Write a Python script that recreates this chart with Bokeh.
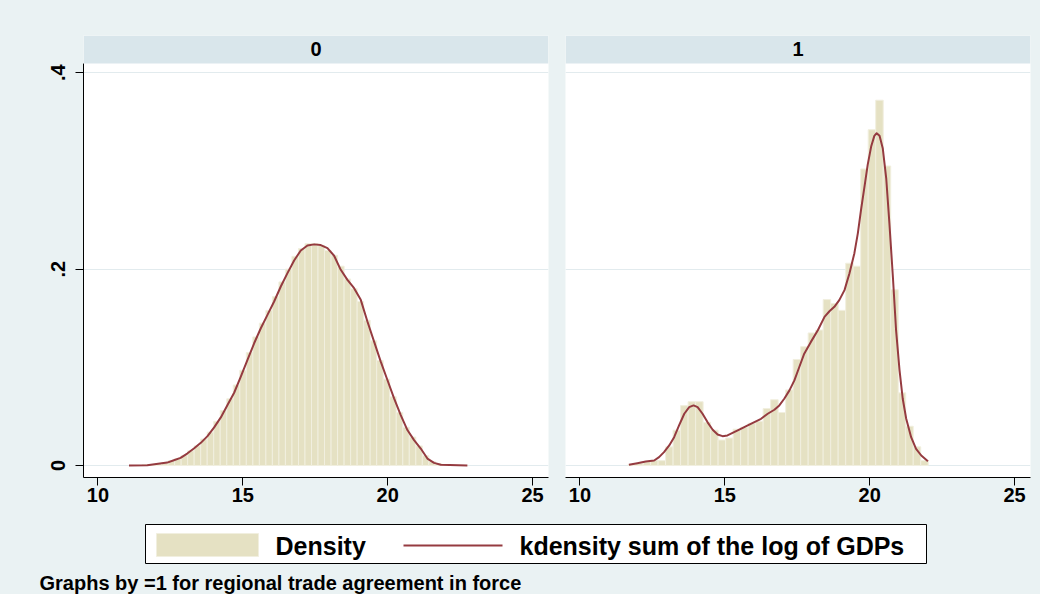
import numpy as np
from bokeh.plotting import figure
from bokeh.layouts import row, column
from bokeh.models import Range1d, FixedTicker, BoxAnnotation, Label, ColumnDataSource
from bokeh.embed import file_html
from bokeh.resources import INLINE
from bokeh.core.properties import value

# ---------------- data ----------------
panel_labels = ["0", "1"]

# panel "0": histogram (density) bins
bin_start_0 = 11.07
bin_width_0 = 0.225
density_0 = [0.000, 0.000, 0.001, 0.001, 0.002, 0.003, 0.005, 0.007, 0.010, 0.015,
             0.020, 0.027, 0.034, 0.045, 0.056, 0.068, 0.082, 0.097, 0.115, 0.131,
             0.145, 0.158, 0.172, 0.187, 0.200, 0.213, 0.221, 0.226, 0.226, 0.224,
             0.219, 0.214, 0.203, 0.190, 0.180, 0.167, 0.148, 0.127, 0.107, 0.088,
             0.070, 0.054, 0.039, 0.029, 0.020, 0.010, 0.004, 0.002, 0.001, 0.000,
             0.000, 0.000]

# panel "1": histogram (density) bins
bin_start_1 = 11.66
bin_width_1 = 0.259
density_1 = [0.001, 0.002, 0.004, 0.005, 0.005, 0.019, 0.036, 0.061, 0.065, 0.065,
             0.044, 0.036, 0.026, 0.028, 0.037, 0.039, 0.043, 0.045, 0.058, 0.067,
             0.054, 0.077, 0.108, 0.121, 0.135, 0.138, 0.169, 0.165, 0.158, 0.206,
             0.203, 0.302, 0.342, 0.372, 0.305, 0.179, 0.074, 0.040, 0.019, 0.005]

# kernel density curves
kde_x_0 = [11.07, 11.70, 12.39, 12.62, 12.85, 13.08, 13.31, 13.55, 13.78, 14.01,
           14.24, 14.47, 14.70, 14.93, 15.16, 15.39, 15.62, 15.85, 16.08, 16.31,
           16.54, 16.77, 17.00, 17.23, 17.46, 17.69, 17.92, 18.15, 18.38, 18.61,
           18.84, 19.07, 19.30, 19.53, 19.76, 19.99, 20.22, 20.45, 20.68, 20.91,
           21.14, 21.37, 21.60, 21.83, 22.75]
kde_y_0 = [0.0000, 0.0003, 0.0030, 0.0054, 0.0078, 0.0122, 0.0173, 0.0231, 0.0299, 0.0388,
           0.0490, 0.0616, 0.0741, 0.0905, 0.1075, 0.1245, 0.1398, 0.1534, 0.1670, 0.1823,
           0.1959, 0.2088, 0.2190, 0.2241, 0.2252, 0.2245, 0.2214, 0.2136, 0.1993, 0.1891,
           0.1806, 0.1687, 0.1466, 0.1262, 0.1058, 0.0871, 0.0684, 0.0514, 0.0361, 0.0259,
           0.0173, 0.0071, 0.0027, 0.0007, 0.0000]

kde_x_1 = [11.69, 11.98, 12.27, 12.56, 12.73, 12.90, 13.08, 13.25, 13.42, 13.60,
           13.77, 13.92, 14.06, 14.23, 14.40, 14.58, 14.75, 14.92, 15.09, 15.32,
           15.55, 15.79, 16.02, 16.25, 16.48, 16.71, 16.88, 17.05, 17.23, 17.40,
           17.57, 17.74, 17.97, 18.21, 18.44, 18.61, 18.78, 18.95, 19.13, 19.30,
           19.47, 19.59, 19.70, 19.82, 19.93, 20.05, 20.16, 20.24, 20.34, 20.45,
           20.57, 20.68, 20.80, 20.91, 21.03, 21.14, 21.26, 21.43, 21.60, 21.78, 22.01]
kde_y_1 = [0.0007, 0.0024, 0.0041, 0.0051, 0.0085, 0.0136, 0.0204, 0.0289, 0.0408, 0.0527,
           0.0595, 0.0612, 0.0595, 0.0527, 0.0442, 0.0364, 0.0316, 0.0299, 0.0306, 0.0340,
           0.0374, 0.0408, 0.0442, 0.0476, 0.0527, 0.0568, 0.0612, 0.0680, 0.0765, 0.0867,
           0.1003, 0.1139, 0.1259, 0.1378, 0.1514, 0.1571, 0.1616, 0.1684, 0.1786, 0.1956,
           0.2160, 0.2364, 0.2602, 0.2840, 0.3061, 0.3248, 0.3357, 0.3384, 0.3357, 0.3231,
           0.2925, 0.2466, 0.1922, 0.1378, 0.0969, 0.0680, 0.0476, 0.0289, 0.0170, 0.0102,
           0.0044]

x_ticks = [10, 15, 20, 25]
y_ticks = [0, 0.2, 0.4]
y_tick_labels = ["0", ".2", ".4"]
legend_labels = ["Density", "kdensity sum of the log of GDPs"]
note_text = "Graphs by =1 for regional trade agreement in force"

# ---------------- style ----------------
BG = "#EAF2F3"
STRIP = "#D9E6EB"
BAR = "#E5E1C3"
BAR_LINE = "#F1EFDF"
KDE = "#953B40"
GRID = "#E2EBEE"
FONT = "Liberation Sans"

X0, X1 = 9.5, 25.55
Y0, Y1 = -0.0122, 0.4379
STRIP_BOTTOM = 0.4094


def make_panel(idx, density, start, width, kx, ky, left_axis):
    p = figure(frame_width=465, frame_height=442,
               x_range=Range1d(X0, X1), y_range=Range1d(Y0, Y1),
               output_backend="svg", toolbar_location=None,
               y_axis_location="left" if left_axis else None,
               min_border_left=83 if left_axis else 9,
               min_border_right=8 if left_axis else 10,
               min_border_top=35, min_border_bottom=39)
    p.background_fill_color = "white"
    p.border_fill_color = BG
    p.outline_line_color = None
    p.xgrid.visible = False
    p.ygrid.ticker = FixedTicker(ticks=y_ticks)
    p.ygrid.grid_line_color = GRID
    p.ygrid.grid_line_width = 1

    edges = start + width * np.arange(len(density) + 1)
    src = ColumnDataSource(dict(left=edges[:-1], right=edges[1:], top=density,
                                bottom=np.zeros(len(density))))
    p.quad(left="left", right="right", top="top", bottom="bottom", source=src,
           fill_color=BAR, line_color=BAR_LINE, line_width=1)
    p.line(kx, ky, line_color=KDE, line_width=2, line_join="round")

    # x axis
    xa = p.xaxis[0]
    xa.ticker = FixedTicker(ticks=x_ticks)
    xa.major_tick_out = 8
    xa.major_tick_in = 0
    xa.minor_tick_line_color = None
    xa.axis_line_color = "black"
    xa.major_tick_line_color = "black"
    xa.major_label_text_font = FONT
    xa.major_label_text_font_style = "bold"
    xa.major_label_text_font_size = "20px"
    xa.major_label_text_color = "black"
    xa.major_label_standoff = 2

    if left_axis:
        ya = p.yaxis[0]
        ya.ticker = FixedTicker(ticks=y_ticks)
        ya.major_label_overrides = dict(zip(y_ticks, y_tick_labels))
        ya.bounds = (Y0, STRIP_BOTTOM)
        ya.major_tick_out = 8
        ya.major_tick_in = 0
        ya.minor_tick_line_color = None
        ya.axis_line_color = "black"
        ya.major_tick_line_color = "black"
        ya.major_label_orientation = "vertical"
        ya.major_label_text_font = FONT
        ya.major_label_text_font_style = "bold"
        ya.major_label_text_font_size = "20px"
        ya.major_label_text_color = "black"
        ya.major_label_standoff = 10

    # header strip with panel label
    p.add_layout(BoxAnnotation(bottom=STRIP_BOTTOM, fill_color=STRIP, fill_alpha=1.0,
                               line_color=None))
    p.add_layout(Label(x=(X0 + X1) / 2, y=(STRIP_BOTTOM + Y1) / 2, text=panel_labels[idx],
                       text_align="center", text_baseline="middle",
                       text_font=FONT, text_font_style="bold",
                       text_font_size="20px", text_color="black"))
    return p


p0 = make_panel(0, density_0, bin_start_0, bin_width_0, kde_x_0, kde_y_0, True)
p1 = make_panel(1, density_1, bin_start_1, bin_width_1, kde_x_1, kde_y_1, False)

# ---------------- legend + note strip ----------------
p2 = figure(frame_width=1040, frame_height=78,
            x_range=Range1d(0, 1040), y_range=Range1d(594, 516),
            x_axis_location=None, y_axis_location=None,
            output_backend="svg", toolbar_location=None, min_border=0)
p2.background_fill_color = BG
p2.border_fill_color = BG
p2.outline_line_color = None
p2.xgrid.visible = False
p2.ygrid.visible = False

p2.quad(left=[145], right=[926], top=[524], bottom=[563],
        fill_color="white", line_color="black", line_width=1)
p2.quad(left=[156], right=[258], top=[533], bottom=[556],
        fill_color=BAR, line_color=BAR_LINE, line_width=1)
p2.text(x=[275], y=[545], text=[legend_labels[0]], text_font=value(FONT),
        text_font_style="bold", text_font_size="25px", text_baseline="middle",
        text_color="black")
p2.line([403, 502], [545, 545], line_color=KDE, line_width=2)
p2.text(x=[519], y=[545], text=[legend_labels[1]], text_font=value(FONT),
        text_font_style="bold", text_font_size="25px", text_baseline="middle",
        text_color="black")
p2.text(x=[39], y=[582], text=[note_text], text_font=value(FONT),
        text_font_style="bold", text_font_size="20px", text_baseline="middle",
        text_color="black")

top_row = row(p0, p1, spacing=0, styles={"background-color": BG})
layout = column(top_row, p2, spacing=0, styles={"background-color": BG})

open("out.html", "w").write(file_html(layout, INLINE))
